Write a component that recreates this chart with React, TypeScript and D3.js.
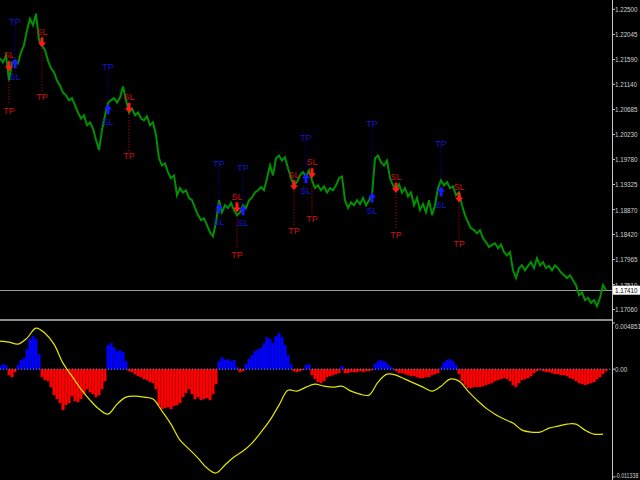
import React from 'react';
import * as d3 from 'd3';

const closes = [
  1.2161, 1.2154, 1.2166, 1.2121, 1.2154, 1.2157, 1.2152, 1.2172, 1.2185, 1.2212,
  1.2233, 1.2221, 1.2242, 1.2194, 1.2185, 1.2176, 1.2157, 1.2143, 1.2136, 1.2121,
  1.2112, 1.2099, 1.2094, 1.2085, 1.2089, 1.2076, 1.2063, 1.2052, 1.2058, 1.2040,
  1.2045, 1.2034, 1.2013, 1.1995, 1.2031, 1.2058, 1.2080, 1.2085, 1.2089, 1.2081,
  1.2090, 1.2110, 1.2085, 1.2063, 1.2070, 1.2058, 1.2063, 1.2052, 1.2049, 1.2056,
  1.2040, 1.2045, 1.2022, 1.1980, 1.1967, 1.1971, 1.1955, 1.1944, 1.1949, 1.1913,
  1.1926, 1.1918, 1.1922, 1.1908, 1.1904, 1.1890, 1.1877, 1.1868, 1.1871, 1.1859,
  1.1846, 1.1839, 1.1864, 1.1904, 1.1882, 1.1895, 1.1890, 1.1899, 1.1886, 1.1877,
  1.1882, 1.1895, 1.1890, 1.1904, 1.1909, 1.1918, 1.1922, 1.1928, 1.1922, 1.1944,
  1.1967, 1.1949, 1.1980, 1.1985, 1.1976, 1.1982, 1.1962, 1.1944, 1.1931, 1.1937,
  1.1949, 1.1955, 1.1947, 1.1958, 1.1940, 1.1926, 1.1931, 1.1922, 1.1929, 1.1918,
  1.1926, 1.1922, 1.1931, 1.1944, 1.1947, 1.1904, 1.1890, 1.1900, 1.1895, 1.1904,
  1.1897, 1.1908, 1.1895, 1.1904, 1.1913, 1.1980, 1.1985, 1.1973, 1.1967, 1.1976,
  1.1944, 1.1931, 1.1922, 1.1933, 1.1918, 1.1926, 1.1911, 1.1918, 1.1895, 1.1908,
  1.1886, 1.1897, 1.1882, 1.1904, 1.1877, 1.1895, 1.1926, 1.1940, 1.1931, 1.1937,
  1.1926, 1.1929, 1.1913, 1.1918, 1.1895, 1.1877, 1.1864, 1.1853, 1.1850, 1.1844,
  1.1850, 1.1835, 1.1828, 1.1819, 1.1823, 1.1826, 1.1817, 1.1824, 1.1810, 1.1804,
  1.1810, 1.1777, 1.1763, 1.1781, 1.1786, 1.1777, 1.1785, 1.1792, 1.1781, 1.1799,
  1.1786, 1.1792, 1.1781, 1.1785, 1.1777, 1.1786, 1.1781, 1.1773, 1.1768, 1.1763,
  1.1768, 1.1759, 1.1750, 1.1732, 1.1737, 1.1723, 1.1727, 1.1718, 1.1723, 1.1712,
  1.1727, 1.1750, 1.1741,
];

const histValues = [
  0.00032, 0.00053, 0.00042, -0.00063, -0.00084, -0.00032, 0.00042, 0.00095, 0.00116, 0.0021,
  0.00315, 0.00347, 0.00315, 0.00158, -0.00084, -0.00116, -0.00126, -0.00189, -0.00273, -0.00315,
  -0.00357, -0.00431, -0.00378, -0.00357, -0.00284, -0.00336, -0.00347, -0.00315, -0.00263, -0.0021,
  -0.00242, -0.00263, -0.00294, -0.00273, -0.0021, -0.00126, 0.00252, 0.00273, 0.00231, 0.00189,
  0.002, 0.00179, 0.00084, -0.00021, -0.00032, -0.00053, -0.00074, -0.00084, -0.00105, -0.00116,
  -0.00137, -0.00147, -0.0021, -0.00378, -0.0042, -0.0041, -0.00399, -0.0042, -0.00389, -0.00378,
  -0.00357, -0.00294, -0.00252, -0.0021, -0.00263, -0.00315, -0.00294, -0.00326, -0.00315, -0.00305,
  -0.00326, -0.00263, -0.00158, 0.00084, 0.00126, 0.00095, 0.00105, 0.00084, 0.00095, 0.00021,
  -0.00032, -0.00021, 0.00053, 0.00105, 0.00147, 0.00189, 0.0021, 0.00221, 0.00273, 0.00336,
  0.00315, 0.00273, 0.00347, 0.00378, 0.00336, 0.00252, 0.00147, 0.00053, -0.00021, -0.00032,
  -0.00021, -0.00011, 0.00042, 0.00053, -0.00063, -0.00105, -0.00137, -0.00147, -0.00126, -0.00084,
  -0.00074, -0.00063, -0.00053, -0.00042, 0.00032, -0.00042, -0.00042, -0.00032, -0.00032, -0.00032,
  -0.00021, -0.00032, -0.00021, -0.00021, -0.00011, 0.00053, 0.00084, 0.00095, 0.00084, 0.00063,
  0.00032, 0.00011, -0.00021, -0.00042, -0.00042, -0.00053, -0.00063, -0.00074, -0.00074, -0.00084,
  -0.00095, -0.00095, -0.00084, -0.00084, -0.00063, -0.00053, -0.00042, 0.00021, 0.00074, 0.00095,
  0.00105, 0.00084, 0.00042, -0.00053, -0.00126, -0.00168, -0.002, -0.002, -0.00189, -0.00189,
  -0.00189, -0.00179, -0.00168, -0.00158, -0.00147, -0.00126, -0.00116, -0.00105, -0.00095, -0.00105,
  -0.00126, -0.00168, -0.00189, -0.00147, -0.00116, -0.00105, -0.00095, -0.00074, -0.00042, -0.00021,
  -0.00011, -0.00021, -0.00032, -0.00032, -0.00042, -0.00053, -0.00053, -0.00063, -0.00063, -0.00074,
  -0.00095, -0.00105, -0.00126, -0.00147, -0.00158, -0.00168, -0.00158, -0.00147, -0.00137, -0.00105,
  -0.00084, -0.00053, -0.00021,
];

// signal line, one value every 3 bars
const signalLine = [
  0.00294, 0.00284, 0.00263, 0.00326, 0.00431, 0.00378, 0.00263, 0.00063, -0.00074, -0.0021,
  -0.00326, -0.0042, -0.00473, -0.00368, -0.00294, -0.00284, -0.00294, -0.00315, -0.00441, -0.00578,
  -0.00746, -0.0084, -0.00935, -0.0104, -0.01092, -0.01008, -0.00924, -0.00861, -0.00777, -0.00662,
  -0.00536, -0.00378, -0.00221, -0.00231, -0.00189, -0.00158, -0.00179, -0.00189, -0.00179, -0.00231,
  -0.00263, -0.00273, -0.00137, -0.00053, -0.00063, -0.00105, -0.00147, -0.00189, -0.00231, -0.00179,
  -0.00105, -0.00126, -0.00231, -0.00326, -0.0041, -0.00473, -0.00525, -0.00567, -0.00641, -0.00662,
  -0.00662, -0.0062, -0.00599, -0.00578, -0.00578, -0.00641, -0.00683, -0.00683,
];

const priceTicks = [1.225, 1.22045, 1.2159, 1.2114, 1.20685, 1.2023, 1.1978, 1.19325, 1.1887, 1.1842, 1.17965, 1.1751, 1.1706];
const indTicks = [0.004851, 0, -0.011338];
const indTickLabels = ['0.004851', '0.00', '-0.011338'];
const lastPrice = 1.1741;

const sigBar = [3, 5, 14, 36, 43, 73, 79, 81, 98, 102, 104, 124, 132, 147, 153];
const sigSide = ['sell', 'buy', 'sell', 'buy', 'sell', 'buy', 'sell', 'buy', 'sell', 'buy', 'sell', 'buy', 'sell', 'buy', 'sell'];
const sigEntry = [1.2147, 1.2152, 1.2190, 1.2069, 1.2071, 1.1889, 1.1891, 1.1886, 1.1931, 1.1944, 1.1953, 1.1909, 1.1926, 1.1920, 1.1909];
const sigTP = [1.2067, 1.2228, 1.2091, 1.2145, 1.1984, 1.1971, 1.1806, 1.1962, 1.1848, 1.2018, 1.1870, 1.2043, 1.1841, 1.2007, 1.1826];

const W = 640;
const H = 480;
const AXIS_X = 612;

const font = "'Liberation Sans', Arial, sans-serif";

function AxisLabel({ y, text, color = '#d0d0d0', sx = 0.78 }: { y: number; text: string; color?: string; sx?: number }) {
  return (
    <g transform={`translate(${AXIS_X + 3},${y}) scale(${sx},1)`}>
      <text x={0} y={0} dy="0.36em" fontFamily={font} fontSize={8} fill={color}>
        {text}
      </text>
    </g>
  );
}

export default function App() {
  const x = d3.scaleLinear().domain([0, closes.length - 1]).range([0, 606]);
  const yP = d3.scaleLinear().domain([1.1706, 1.225]).range([309.5, 9.3]);
  const yI = d3.scaleLinear().domain([-0.011338, 0.004851]).range([477, 323]);

  const priceLine = d3.line<number>().x((_, i) => x(i)).y((d) => yP(d))(closes) || '';
  const sigPath =
    d3
      .line<number>()
      .x((_, i) => x(i * 3))
      .y((d) => yI(d))
      .curve(d3.curveCatmullRom)(signalLine) || '';

  const barW = x(1) - x(0);

  return (
    <svg
      width={W}
      height={H}
      style={{ position: 'fixed', left: 0, top: 0, background: '#000' }}
    >
      <rect x={0} y={0} width={W} height={H} fill="#000" />

      {/* current price line */}
      <line x1={0} x2={AXIS_X} y1={Math.round(yP(lastPrice)) + 0.5} y2={Math.round(yP(lastPrice)) + 0.5} stroke="#9a9a9a" strokeWidth={1} />

      {/* dotted signal lines */}
      {sigBar.map((b, k) => {
        const cx = x(b);
        const ey = yP(sigEntry[k]);
        const ty = yP(sigTP[k]);
        const buy = sigSide[k] === 'buy';
        return (
          <line
            key={'dl' + k}
            x1={cx}
            x2={cx}
            y1={buy ? ty + 5 : ey - 6}
            y2={buy ? ey : ty - 5}
            stroke={buy ? '#0000d8' : '#d80000'}
            strokeWidth={1}
            strokeDasharray="1,2"
          />
        );
      })}

      {/* price */}
      <path d={priceLine} fill="none" stroke="#009000" strokeWidth={2} strokeLinejoin="miter" />

      {/* arrows and labels */}
      {sigBar.map((b, k) => {
        const cx = x(b);
        const ey = yP(sigEntry[k]);
        const ty = yP(sigTP[k]);
        const buy = sigSide[k] === 'buy';
        const txtCol = buy ? '#1414d8' : '#d01010';
        const arr = buy
          ? `M${cx - 4},${ey} L${cx},${ey - 5} L${cx + 4},${ey} L${cx + 1.5},${ey} L${cx + 1.5},${ey + 5} L${cx - 1.5},${ey + 5} L${cx - 1.5},${ey} Z`
          : `M${cx - 4},${ey} L${cx},${ey + 5} L${cx + 4},${ey} L${cx + 1.5},${ey} L${cx + 1.5},${ey - 5} L${cx - 1.5},${ey - 5} L${cx - 1.5},${ey} Z`;
        return (
          <g key={'s' + k}>
            <path d={arr} fill={buy ? '#1a1aff' : '#ff1a1a'} />
            <text x={cx} y={ty} dy="0.36em" textAnchor="middle" fontFamily={font} fontSize={9} fill={txtCol}>
              TP
            </text>
            <text x={cx} y={buy ? ey + 13 : ey - 11} dy="0.36em" textAnchor="middle" fontFamily={font} fontSize={9} fill={txtCol}>
              SL
            </text>
          </g>
        );
      })}

      {/* indicator histogram */}
      {histValues.map((v, i) => {
        const y0 = yI(0);
        const y1 = yI(v);
        return (
          <rect
            key={'h' + i}
            x={x(i) - barW / 2}
            width={barW}
            y={Math.min(y0, y1)}
            height={Math.abs(y1 - y0)}
            fill={v >= 0 ? '#0000ff' : '#ff0000'}
          />
        );
      })}
      <line x1={0} x2={AXIS_X} y1={yI(0)} y2={yI(0)} stroke="#8c8cd0" strokeWidth={1} strokeDasharray="1,2" />
      <path d={sigPath} fill="none" stroke="#e6e600" strokeWidth={1.2} />

      {/* panel separator */}
      <rect x={0} y={319} width={AXIS_X} height={2} fill="#8c8c8c" />

      {/* right axis */}
      <line x1={AXIS_X + 0.5} x2={AXIS_X + 0.5} y1={0} y2={H} stroke="#c8c8c8" strokeWidth={1} />
      {priceTicks.map((t) => (
        <g key={'pt' + t}>
          <line x1={AXIS_X} x2={AXIS_X + 3} y1={yP(t)} y2={yP(t)} stroke="#c8c8c8" />
          <AxisLabel y={yP(t)} text={t.toFixed(5)} />
        </g>
      ))}
      {indTicks.map((t, k) => (
        <g key={'it' + k}>
          <line x1={AXIS_X} x2={AXIS_X + 3} y1={yI(t)} y2={yI(t)} stroke="#c8c8c8" />
          <AxisLabel
            y={Math.min(Math.max(yI(t), 326), 475)}
            text={indTickLabels[k]}
            sx={indTickLabels[k].length > 8 ? 0.66 : 0.78}
          />
        </g>
      ))}

      {/* last price box */}
      <rect x={AXIS_X + 1} y={yP(lastPrice) - 4.5} width={W - AXIS_X - 1} height={9} fill="#ffffff" />
      <AxisLabel y={yP(lastPrice)} text={lastPrice.toFixed(5)} color="#000" />
    </svg>
  );
}
